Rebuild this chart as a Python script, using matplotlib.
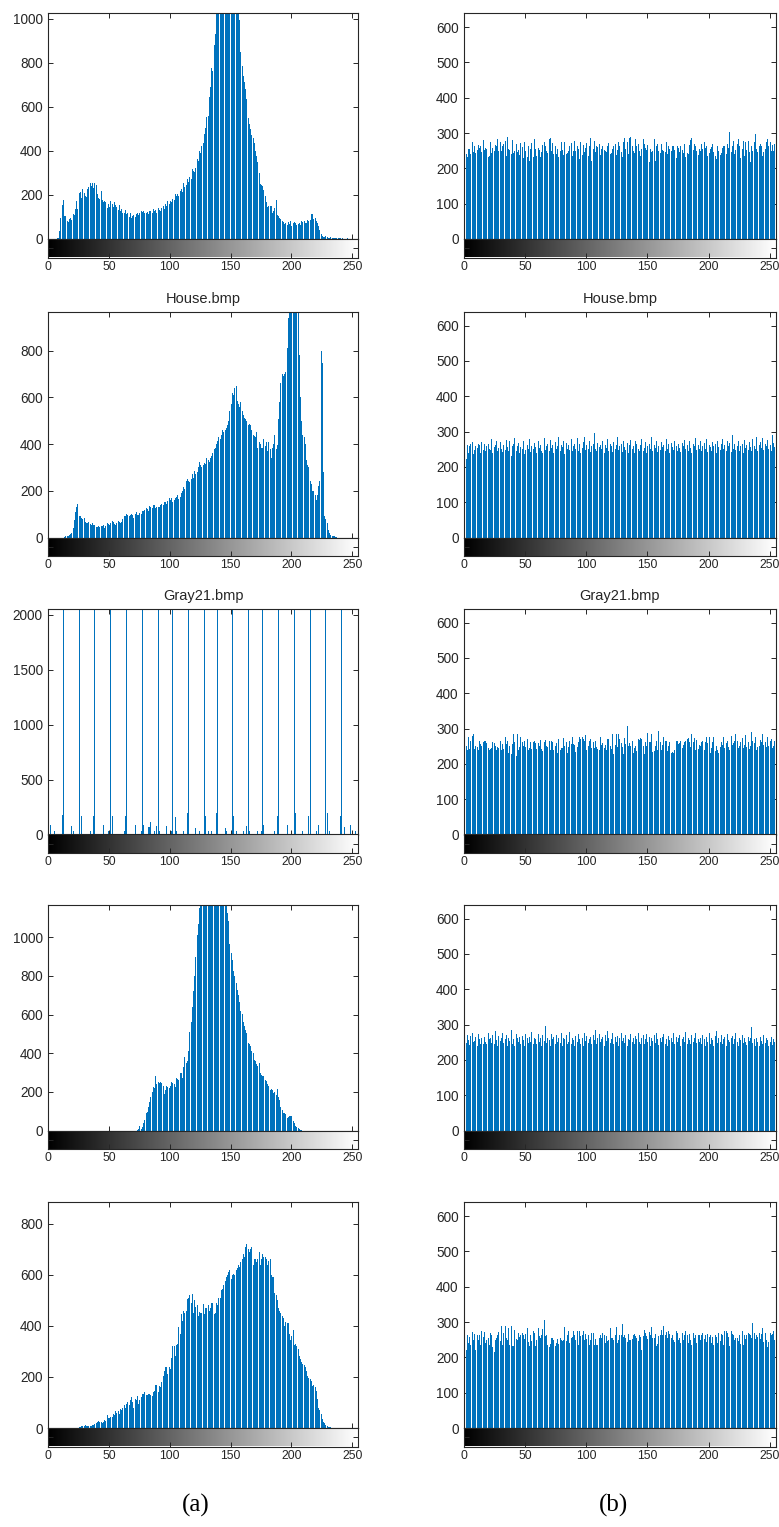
"""Grey-level histograms in imhist style: plain images (a) vs. encrypted images (b)."""

import matplotlib

matplotlib.use("Agg")
import matplotlib.pyplot as plt
import numpy as np

# ---- data: counts per grey level 0..255 ----

plain_1_counts = [
    0, 0, 0, 0, 0, 0, 0, 4, 6, 38, 95, 154, 175, 105, 104, 82,
    78, 92, 96, 88, 112, 108, 135, 172, 138, 208, 214, 186, 228, 210, 196, 192,
    226, 236, 256, 240, 254, 232, 252, 246, 206, 186, 182, 216, 176, 166, 174, 170,
    140, 160, 146, 174, 160, 146, 166, 156, 146, 132, 154, 126, 136, 118, 116, 130,
    112, 116, 102, 116, 96, 106, 110, 102, 112, 120, 110, 116, 126, 122, 128, 120,
    118, 124, 112, 126, 126, 120, 136, 128, 130, 118, 140, 132, 128, 142, 150, 138,
    160, 148, 172, 158, 172, 166, 182, 176, 202, 196, 206, 194, 216, 226, 212, 252,
    234, 244, 272, 258, 282, 272, 318, 310, 302, 322, 362, 356, 400, 388, 420, 436,
    478, 502, 552, 560, 645, 690, 776, 760, 880, 930, 1060, 1120, 1150, 1200, 1230, 1260,
    1280, 1300, 1290, 1310, 1270, 1250, 1220, 1190, 1150, 1110, 1080, 1050, 1040, 995, 850, 785,
    740, 710, 680, 633, 550, 520, 497, 470, 460, 437, 400, 377, 347, 300, 249, 245,
    241, 220, 196, 170, 143, 150, 148, 150, 120, 128, 140, 176, 110, 105, 95, 90,
    83, 75, 70, 72, 65, 76, 70, 80, 60, 72, 78, 74, 62, 66, 72, 62,
    80, 76, 82, 72, 74, 84, 80, 88, 112, 115, 90, 95, 80, 72, 60, 40,
    22, 14, 10, 10, 12, 8, 6, 6, 8, 5, 4, 4, 3, 4, 3, 3,
    3, 2, 3, 2, 2, 2, 3, 2, 1, 0, 0, 0, 0, 0, 0, 0,
]

house_plain_counts = [
    0, 0, 0, 0, 0, 0, 0, 0, 0, 0, 0, 0, 0, 3, 5, 6,
    8, 10, 14, 20, 40, 75, 110, 130, 145, 90, 90, 82, 80, 85, 66, 60,
    62, 65, 56, 55, 60, 54, 55, 45, 47, 50, 45, 48, 50, 55, 40, 50,
    60, 58, 55, 60, 70, 65, 58, 55, 60, 70, 66, 64, 68, 80, 90, 94,
    100, 95, 92, 95, 100, 98, 85, 102, 110, 96, 95, 105, 100, 115, 112, 118,
    125, 120, 115, 135, 130, 125, 140, 138, 125, 130, 132, 130, 140, 145, 138, 150,
    150, 145, 156, 170, 160, 168, 150, 162, 170, 172, 180, 165, 172, 190, 200, 215,
    206, 240, 250, 240, 238, 250, 270, 256, 285, 270, 280, 300, 325, 310, 300, 310,
    320, 315, 340, 330, 325, 340, 350, 360, 380, 385, 400, 415, 430, 420, 440, 460,
    450, 460, 470, 480, 500, 540, 570, 620, 610, 640, 650, 585, 570, 560, 580, 540,
    525, 510, 505, 500, 480, 485, 480, 460, 440, 435, 430, 450, 385, 410, 400, 385,
    385, 420, 390, 410, 370, 410, 380, 340, 385, 400, 440, 380, 395, 505, 580, 660,
    700, 690, 700, 710, 810, 940, 1100, 1200, 1250, 1300, 1280, 1150, 1100, 990, 780, 600,
    500, 440, 430, 400, 330, 310, 300, 240, 230, 200, 200, 180, 160, 180, 220, 240,
    800, 745, 280, 90, 80, 60, 30, 20, 12, 8, 6, 5, 3, 2, 0, 0,
    0, 0, 0, 0, 0, 0, 0, 0, 0, 0, 0, 0, 0, 0, 0, 0,
]

# Gray21: 21 flat grey levels plus a few stray levels
gray21_levels = [0, 12, 25, 38, 51, 64, 77, 90, 102, 115, 128,
                 139, 151, 164, 176, 189, 202, 215, 228, 241, 255]
gray21_level_counts = [3120, 3120, 3120, 3120, 3120, 3120, 3120, 3120, 3120, 3120, 3120,
                       3120, 3120, 3120, 3120, 3120, 3120, 3120, 3120, 3120, 3120]
gray21_minor_bins = [1, 5, 11, 19, 20, 27, 34, 37, 45, 49, 52, 62, 63, 71, 76, 78,
                     82, 83, 84, 87, 89, 91, 97, 101, 104, 105, 111, 114, 121, 124,
                     129, 131, 134, 138, 145, 146, 152, 154, 160, 163, 165, 172, 175,
                     177, 186, 188, 196, 203, 209, 214, 220, 222, 229, 231, 240, 243,
                     248, 252]
gray21_minor_counts = [85, 30, 175, 80, 30, 170, 30, 170, 85, 30, 170, 30, 170, 85, 35, 85,
                       70, 70, 115, 30, 80, 30, 80, 30, 160, 35, 30, 195, 60, 30,
                       170, 30, 30, 195, 60, 30, 170, 30, 30, 80, 30, 30, 30,
                       85, 30, 170, 85, 195, 30, 170, 30, 85, 195, 30, 170, 65,
                       85, 30]

plain_4_counts = [0] * 64 + [
    0, 0, 0, 0, 0, 0, 0, 0, 0, 5, 8, 25, 10, 20, 40, 55,
    90, 95, 120, 150, 175, 200, 225, 220, 280, 240, 250, 245, 250, 245, 230, 190,
    210, 230, 225, 220, 230, 250, 245, 240, 225, 270, 265, 260, 295, 295, 270, 330,
    380, 350, 360, 410, 510, 560, 640, 720, 800, 900, 1010, 1070, 1150, 1220, 1300, 1350,
    1400, 1420, 1460, 1480, 1500, 1490, 1470, 1450, 1440, 1400, 1380, 1350, 1320, 1300, 1280, 1250,
    1230, 1210, 1190, 1126, 1083, 967, 920, 884, 824, 800, 763, 729, 700, 663, 617, 605,
    560, 539, 520, 504, 452, 445, 439, 410, 401, 366, 357, 345, 332, 349, 300, 288,
    282, 280, 262, 254, 240, 228, 211, 215, 207, 193, 200, 185, 214, 175, 159, 120,
    107, 90, 88, 85, 64, 70, 76, 73, 75, 50, 38, 24, 17, 12, 7, 5,
    3, 0, 0, 0, 0, 0, 0, 0, 0, 0, 0, 0, 0, 0, 0, 0,
] + [0] * 32

plain_5_counts = [
    0, 0, 0, 0, 0, 0, 0, 0, 0, 0, 0, 0, 0, 0, 0, 0,
    0, 0, 0, 0, 0, 0, 0, 0, 0, 5, 4, 8, 6, 7, 10, 9,
    8, 7, 8, 9, 12, 10, 15, 18, 22, 28, 25, 24, 20, 22, 30, 26,
    50, 38, 40, 45, 42, 55, 50, 65, 58, 65, 55, 75, 72, 80, 90, 80,
    95, 100, 92, 110, 120, 100, 80, 115, 110, 125, 95, 110, 120, 135, 135, 140,
    130, 130, 135, 132, 130, 125, 140, 145, 170, 170, 140, 165, 160, 180, 205, 225,
    240, 240, 210, 240, 230, 275, 320, 320, 280, 325, 330, 395, 370, 445, 420, 460,
    450, 460, 505, 510, 520, 490, 525, 450, 500, 475, 480, 440, 455, 450, 450, 485,
    445, 470, 470, 480, 460, 470, 490, 490, 445, 450, 490, 480, 510, 510, 540, 545,
    560, 575, 590, 600, 610, 620, 585, 600, 605, 600, 620, 625, 640, 630, 650, 660,
    680, 670, 710, 720, 700, 690, 700, 710, 640, 660, 660, 650, 660, 690, 640, 660,
    680, 670, 670, 660, 640, 655, 660, 600, 590, 590, 530, 520, 500, 470, 460, 450,
    440, 430, 400, 415, 410, 410, 370, 345, 360, 385, 325, 330, 320, 310, 280, 270,
    260, 250, 245, 240, 225, 205, 195, 190, 185, 165, 170, 160, 145, 115, 80, 70,
    55, 35, 25, 20, 10, 8, 5, 3, 2, 0, 0, 0, 0, 0, 0, 0,
    0, 0, 0, 0, 0, 0, 0, 0, 0, 0, 0, 0, 0, 0, 0, 0,
]

cipher_1_counts = [
    238, 242, 231, 254, 256, 240, 276, 247, 262, 244, 252, 265, 259, 262, 246, 281,
    252, 258, 256, 233, 236, 274, 243, 259, 250, 266, 262, 284, 248, 274, 248, 262,
    270, 277, 235, 289, 256, 252, 240, 281, 244, 248, 268, 247, 252, 238, 273, 260,
    230, 275, 248, 233, 263, 221, 254, 272, 232, 282, 254, 235, 259, 252, 232, 247,
    265, 276, 262, 248, 244, 283, 285, 250, 273, 241, 262, 240, 254, 231, 248, 276,
    252, 238, 276, 240, 244, 250, 264, 271, 236, 250, 277, 248, 262, 254, 226, 276,
    239, 266, 247, 258, 272, 236, 262, 285, 220, 254, 278, 247, 262, 260, 270, 238,
    256, 264, 252, 250, 245, 262, 272, 240, 243, 256, 262, 268, 239, 253, 274, 262,
    247, 231, 276, 286, 256, 274, 240, 287, 289, 262, 250, 243, 282, 262, 269, 249,
    234, 255, 282, 270, 258, 253, 265, 217, 254, 245, 250, 284, 221, 262, 270, 249,
    243, 268, 252, 250, 246, 274, 240, 264, 256, 250, 262, 264, 252, 229, 262, 258,
    246, 263, 251, 244, 268, 232, 244, 240, 265, 279, 286, 252, 270, 264, 248, 238,
    254, 248, 268, 254, 276, 259, 262, 236, 244, 256, 261, 270, 247, 235, 226, 262,
    250, 238, 244, 258, 262, 264, 242, 268, 259, 304, 246, 262, 278, 240, 251, 268,
    284, 262, 230, 254, 278, 236, 276, 252, 278, 246, 218, 262, 248, 274, 298, 254,
    246, 262, 268, 264, 236, 246, 254, 276, 284, 262, 274, 248, 265, 250, 270, 262,
]

house_cipher_counts = [
    268, 222, 262, 240, 258, 264, 270, 236, 248, 258, 254, 264, 262, 240, 270, 248,
    264, 244, 258, 266, 252, 248, 278, 240, 256, 262, 274, 246, 254, 270, 252, 242,
    262, 248, 276, 256, 246, 272, 230, 258, 264, 282, 246, 258, 268, 240, 256, 250,
    272, 236, 248, 262, 252, 278, 242, 260, 250, 268, 256, 240, 272, 254, 262, 244,
    238, 282, 248, 258, 264, 244, 276, 254, 262, 240, 270, 250, 258, 284, 246, 262,
    256, 274, 236, 268, 252, 262, 248, 278, 244, 258, 266, 252, 282, 246, 264, 240,
    254, 270, 286, 248, 262, 250, 274, 242, 258, 264, 296, 252, 244, 268, 256, 262,
    250, 272, 240, 262, 254, 278, 246, 264, 258, 242, 270, 250, 262, 284, 248, 258,
    266, 242, 274, 256, 248, 268, 238, 262, 276, 250, 258, 240, 272, 264, 252, 246,
    262, 278, 244, 254, 270, 240, 258, 266, 250, 286, 246, 262, 254, 272, 242, 260,
    248, 270, 256, 262, 244, 278, 252, 264, 240, 268, 256, 248, 274, 260, 244, 266,
    254, 242, 268, 258, 276, 250, 262, 246, 272, 254, 240, 266, 258, 282, 248, 262,
    250, 274, 244, 260, 268, 252, 278, 242, 262, 256, 246, 270, 258, 264, 240, 272,
    256, 248, 266, 280, 250, 262, 244, 274, 258, 268, 242, 290, 252, 264, 248, 260,
    272, 246, 258, 266, 240, 276, 254, 262, 248, 270, 256, 244, 278, 260, 252, 286,
    244, 262, 270, 254, 282, 248, 266, 258, 276, 250, 262, 244, 290, 268, 256, 240,
]

gray21_cipher_counts = [
    700, 252, 240, 276, 242, 266, 278, 286, 242, 250, 248, 240, 266, 256, 250, 262,
    264, 266, 258, 244, 240, 242, 246, 262, 258, 252, 240, 248, 244, 264, 238, 256,
    242, 276, 256, 266, 232, 250, 228, 256, 284, 262, 222, 284, 240, 248, 276, 262,
    252, 266, 248, 270, 240, 246, 262, 242, 262, 264, 258, 242, 258, 252, 268, 242,
    236, 262, 268, 252, 248, 264, 240, 266, 262, 238, 252, 258, 232, 270, 240, 246,
    246, 272, 252, 262, 230, 248, 264, 256, 276, 256, 254, 234, 248, 262, 276, 270,
    276, 270, 264, 282, 240, 252, 264, 270, 244, 262, 246, 266, 248, 242, 238, 276,
    254, 260, 244, 254, 240, 270, 270, 252, 242, 284, 228, 254, 286, 248, 284, 270,
    260, 248, 228, 274, 256, 306, 252, 260, 250, 264, 232, 246, 252, 236, 270, 268,
    272, 270, 250, 228, 262, 250, 288, 262, 262, 284, 234, 236, 250, 266, 238, 292,
    262, 240, 254, 276, 264, 266, 236, 250, 262, 232, 234, 232, 238, 266, 264, 256,
    258, 264, 246, 254, 262, 266, 270, 272, 262, 248, 284, 262, 274, 238, 268, 242,
    254, 252, 262, 266, 240, 262, 276, 260, 276, 232, 246, 262, 276, 236, 250, 238,
    232, 248, 262, 254, 276, 244, 258, 266, 248, 240, 280, 254, 258, 266, 284, 264,
    244, 252, 262, 272, 246, 254, 282, 248, 262, 242, 250, 290, 264, 260, 276, 240,
    248, 250, 268, 262, 284, 254, 262, 248, 276, 250, 264, 270, 246, 252, 266, 282,
]

cipher_4_counts = [
    262, 248, 270, 256, 242, 268, 276, 250, 254, 264, 240, 272, 258, 246, 262, 244,
    266, 252, 244, 276, 258, 262, 248, 270, 246, 282, 256, 240, 268, 254, 262, 276,
    248, 258, 270, 238, 262, 254, 286, 246, 258, 240, 272, 262, 250, 264, 244, 268,
    256, 240, 274, 262, 248, 266, 252, 280, 244, 262, 258, 246, 274, 250, 262, 240,
    270, 254, 296, 248, 262, 256, 240, 272, 258, 266, 244, 270, 252, 262, 248, 276,
    240, 262, 258, 270, 246, 252, 280, 244, 262, 256, 238, 268, 250, 272, 258, 246,
    262, 240, 276, 254, 268, 248, 258, 266, 244, 270, 256, 284, 246, 262, 272, 252,
    258, 266, 240, 270, 254, 282, 262, 248, 258, 276, 244, 264, 252, 268, 240, 262,
    276, 254, 262, 248, 270, 238, 260, 256, 274, 252, 262, 244, 268, 258, 276, 250,
    244, 262, 270, 246, 258, 272, 252, 266, 240, 262, 254, 270, 248, 276, 258, 242,
    262, 250, 266, 274, 246, 258, 240, 268, 256, 262, 252, 276, 244, 266, 250, 262,
    270, 240, 258, 264, 252, 278, 246, 262, 256, 244, 270, 252, 262, 276, 248, 258,
    252, 262, 246, 270, 258, 240, 266, 252, 276, 244, 262, 256, 240, 268, 282, 248,
    262, 252, 270, 246, 258, 264, 240, 274, 256, 250, 262, 268, 244, 258, 276, 252,
    240, 262, 256, 270, 248, 262, 252, 242, 266, 254, 262, 292, 248, 258, 240, 262,
    250, 238, 266, 254, 244, 270, 248, 262, 256, 240, 252, 264, 242, 258, 250, 246,
]

cipher_5_counts = [
    252, 222, 264, 240, 258, 236, 272, 248, 266, 220, 264, 248, 262, 234, 274, 258,
    272, 240, 250, 254, 236, 270, 262, 228, 214, 248, 254, 262, 272, 246, 288, 236,
    268, 288, 254, 250, 282, 236, 288, 232, 232, 278, 252, 250, 270, 258, 262, 268,
    264, 252, 266, 282, 244, 232, 264, 246, 276, 270, 232, 248, 282, 260, 254, 262,
    280, 306, 260, 262, 234, 230, 238, 254, 254, 248, 232, 242, 252, 238, 256, 250,
    246, 250, 286, 246, 262, 274, 240, 254, 258, 274, 264, 250, 274, 236, 274, 260,
    262, 276, 250, 266, 252, 262, 236, 250, 268, 268, 236, 252, 236, 236, 256, 264,
    254, 268, 262, 242, 260, 246, 250, 282, 254, 256, 248, 262, 286, 242, 250, 262,
    262, 294, 258, 262, 254, 244, 266, 250, 248, 252, 262, 266, 260, 254, 246, 262,
    258, 222, 260, 278, 268, 260, 252, 272, 262, 286, 254, 254, 266, 232, 238, 260,
    262, 278, 264, 290, 262, 272, 254, 274, 266, 254, 262, 250, 244, 274, 270, 248,
    254, 242, 270, 248, 262, 276, 262, 240, 266, 250, 236, 270, 254, 262, 240, 262,
    264, 248, 262, 270, 252, 262, 244, 266, 258, 262, 242, 258, 234, 262, 258, 240,
    268, 246, 266, 262, 234, 274, 274, 270, 258, 232, 274, 266, 262, 248, 256, 254,
    246, 262, 238, 276, 236, 262, 252, 262, 270, 266, 262, 256, 296, 270, 252, 262,
    258, 270, 252, 266, 282, 244, 270, 248, 230, 244, 270, 262, 266, 276, 248, 240,
]

row_titles = [None, "House.bmp", "Gray21.bmp", None, None]
plain_ylim = [1025, 967, 2058, 1169, 885]
plain_ystep = [200, 200, 500, 200, 200]
cipher_ylim = 640
cipher_ystep = 100
column_labels = ["(a)", "(b)"]

# ---- layout (pixels of a 779 x 1527 canvas) ----
FIG_W, FIG_H = 779, 1527
COL_LEFT = [48.3, 464.3]
COL_WIDTH = [310.0, 311.4]
ROW_TOP = [13, 311.5, 608.5, 904.5, 1202]
HIST_H = 226.0
CBAR_H = 18.5
BAR_COLOR = "#0072BD"
TEXT_COLOR = "#262626"

plt.rcParams["font.family"] = ["Liberation Sans", "DejaVu Sans"]


def _gray21_counts() -> np.ndarray:
    counts = np.zeros(256)
    counts[gray21_minor_bins] = gray21_minor_counts
    counts[gray21_levels] = gray21_level_counts
    return counts


def draw_imhist(fig, col, row, counts, ymax, ystep, title=None):
    """One MATLAB-imhist style panel: bar histogram plus grey ramp strip below."""
    left = COL_LEFT[col] / FIG_W
    width = COL_WIDTH[col] / FIG_W
    zero_px = ROW_TOP[row] + HIST_H

    ax = fig.add_axes([left, 1 - zero_px / FIG_H, width, HIST_H / FIG_H])
    counts = np.asarray(counts, dtype=float)
    assert counts.size == 256, counts.size
    # stem-like bars, one pixel wide per grey level
    ax.vlines(np.arange(256), 0, counts, colors=BAR_COLOR, linewidth=0.7,
              antialiased=False)
    ax.set_xlim(0, 255)
    ax.set_ylim(0, ymax)
    ax.set_yticks(np.arange(0, ymax, ystep))
    ax.set_xticks(np.arange(0, 256, 50))
    ax.tick_params(direction="in", top=True, right=True, bottom=True, labelbottom=False,
                   length=3.5, width=0.7, colors=TEXT_COLOR, labelsize=9.8, pad=4)
    for sp in ax.spines.values():
        sp.set_linewidth(0.8)
        sp.set_color(TEXT_COLOR)
    if title:
        ax.set_title(title, fontsize=10.5, pad=5.8, color=TEXT_COLOR)

    cax = fig.add_axes([left, 1 - (zero_px + CBAR_H) / FIG_H, width, CBAR_H / FIG_H])
    ramp = np.arange(256)[None, :]
    cax.imshow(ramp, cmap="gray", aspect="auto", extent=(0, 255, 0, 1),
               interpolation="bilinear")
    cax.set_xlim(0, 255)
    cax.set_ylim(0, 1)
    cax.set_xticks(np.arange(0, 256, 50))
    cax.set_yticks([0.5])
    cax.tick_params(axis="x", direction="in", length=3.5, width=0.7, colors=TEXT_COLOR,
                    labelsize=8.8, pad=2.5)
    cax.tick_params(axis="y", direction="in", left=True, right=True, labelleft=False,
                    length=3.5, width=0.7, colors=TEXT_COLOR)
    for sp in cax.spines.values():
        sp.set_linewidth(0.8)
        sp.set_color(TEXT_COLOR)
    return ax, cax


def main():
    fig = plt.figure(figsize=(FIG_W / 100, FIG_H / 100), dpi=100)

    plain = [plain_1_counts, house_plain_counts, _gray21_counts(), plain_4_counts,
             plain_5_counts]
    cipher = [cipher_1_counts, house_cipher_counts, gray21_cipher_counts,
              cipher_4_counts, cipher_5_counts]

    for row in range(5):
        draw_imhist(fig, 0, row, plain[row], plain_ylim[row], plain_ystep[row],
                    row_titles[row])
        draw_imhist(fig, 1, row, cipher[row], cipher_ylim, cipher_ystep,
                    row_titles[row])

    for label, x_px in zip(column_labels, [196, 613]):
        fig.text(x_px / FIG_W, 1 - 1505 / FIG_H, label, ha="center", va="center",
                 fontsize=18, family=["Liberation Serif", "DejaVu Serif"], color="black")

    fig.savefig("out.png", dpi=100)


if __name__ == "__main__":
    main()
